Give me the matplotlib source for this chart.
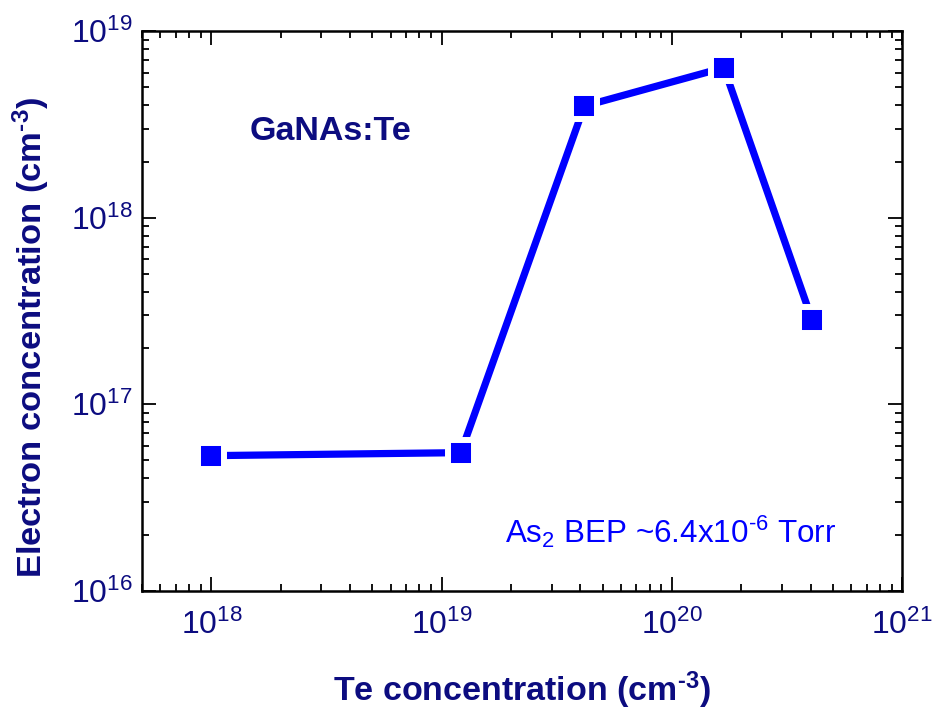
import matplotlib
matplotlib.use('Agg')
import matplotlib.pyplot as plt

plt.rcParams['font.family'] = ['Liberation Sans', 'DejaVu Sans']
plt.rcParams['mathtext.fontset'] = 'custom'
plt.rcParams['mathtext.rm'] = 'Liberation Sans'
plt.rcParams['mathtext.bf'] = 'Liberation Sans:bold'
plt.rcParams['mathtext.it'] = 'Liberation Sans:italic'

# Te doping vs. measured electron concentration
te_conc = [1.0e18, 1.21e19, 4.16e19, 1.68e20, 4.06e20]
n_elec = [5.3e16, 5.5e16, 3.97e18, 6.38e18, 2.83e17]

navy = '#0c0c80'
blue = '#0000ff'
hyph = '\u2010'  # plain hyphen in superscripts instead of a math minus

fig = plt.figure(figsize=(9.35, 7.1), dpi=100)
ax = fig.add_axes([0.152, 0.168, 0.813, 0.788])

ax.plot(te_conc, n_elec, color=blue, lw=5.2, marker='s', ms=18.5,
        mfc=blue, mec='white', mew=4.3, solid_capstyle='butt')

ax.set_xscale('log')
ax.set_yscale('log')
ax.set_xlim(5e17, 1e21)
ax.set_ylim(1e16, 1e19)

for s in ax.spines.values():
    s.set_linewidth(1.8)
ax.tick_params(which='both', direction='in', top=True, right=True, width=1.3)
ax.tick_params(which='major', length=10, labelsize=23, labelcolor=navy)
ax.tick_params(axis='x', which='major', pad=14)
ax.tick_params(axis='y', which='major', pad=7)
ax.tick_params(which='minor', length=5)

ax.set_xlabel('Te concentration (cm$^{\\mathbf{' + hyph + '3}}$)',
              fontsize=24.5, fontweight='bold', color=navy, labelpad=20)
ax.set_ylabel('Electron concentration (cm$^{\\mathbf{' + hyph + '3}}$)', fontsize=24.8,
              fontweight='bold', color=navy, va='center')
ax.yaxis.set_label_coords(-0.146, 0.453)

ax.text(0.142, 0.821, 'GaNAs:Te', transform=ax.transAxes, fontsize=24.5,
        fontweight='bold', color=navy, va='center', ha='left')
ax.text(0.477, 0.085, 'As$_2$ BEP ~6.4x10$^{' + hyph + '6}$ Torr', transform=ax.transAxes,
        fontsize=22.6, color=blue, va='baseline', ha='left')

fig.savefig('out.png', dpi=100)
